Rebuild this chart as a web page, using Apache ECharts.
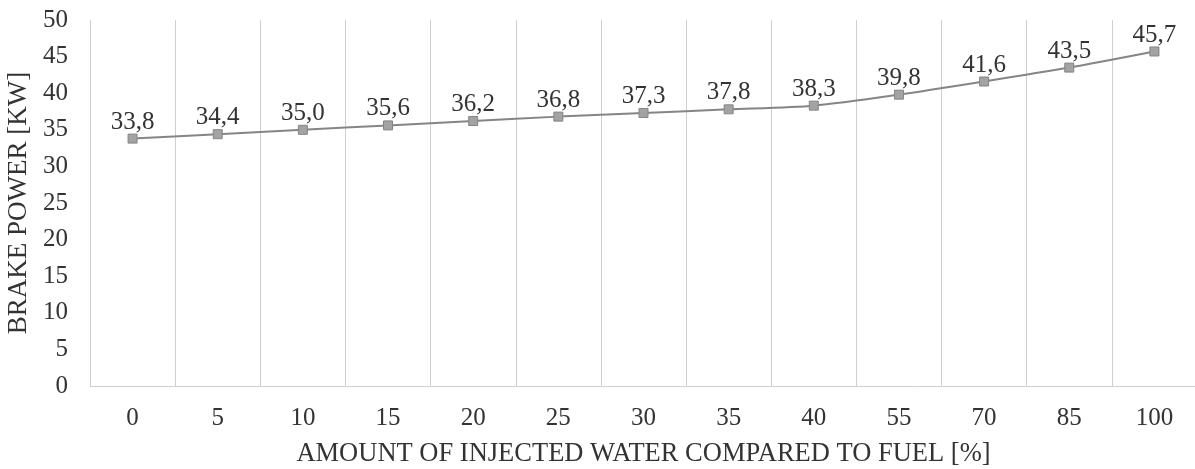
<!DOCTYPE html>
<html><head><meta charset="utf-8">
<script src="https://cdn.jsdelivr.net/npm/echarts@6/dist/echarts.min.js"></script>
<style>html,body{margin:0;padding:0;background:#fff}#c{width:1195px;height:469px}</style>
</head><body><div id="c"></div>
<script>
const categories = ['0','5','10','15','20','25','30','35','40','55','70','85','100'];
const brakePower = [33.8,34.4,35.0,35.6,36.2,36.8,37.3,37.8,38.3,39.8,41.6,43.5,45.7];
const yTicks = {min:0, max:50, interval:5};
const font = 'Liberation Serif, Times New Roman, serif';
const txt = '#333333';
const chart = echarts.init(document.getElementById('c'));
chart.setOption({
  animation:false,
  grid:{left:90, right:-2, top:20, bottom:83, containLabel:false, outerBoundsMode:'none'},
  xAxis:{type:'category', data:categories, boundaryGap:true,
    name:'AMOUNT OF INJECTED WATER COMPARED TO FUEL [%]', nameLocation:'middle', nameGap:55,
    nameTextStyle:{fontFamily:font, fontSize:26.5, color:txt},
    axisLine:{lineStyle:{color:'#d0d0d0', width:1}}, axisTick:{show:false},
    axisLabel:{fontFamily:font, fontSize:25, color:txt, margin:20},
    splitLine:{show:true, lineStyle:{color:'#cfcfcf', width:1}}},
  yAxis:{type:'value', min:yTicks.min, max:yTicks.max, interval:yTicks.interval,
    name:'BRAKE POWER [KW]', nameLocation:'middle', nameGap:52,
    nameTextStyle:{fontFamily:font, fontSize:27, color:txt},
    axisLine:{show:false}, axisTick:{show:false}, splitLine:{show:false},
    axisLabel:{fontFamily:font, fontSize:25, color:txt, margin:22}},
  series:[{type:'line', data:brakePower, smooth:0.25, symbol:'rect', symbolSize:9,
    lineStyle:{color:'#858585', width:2},
    itemStyle:{color:'#a3a3a3', borderColor:'#858585', borderWidth:1},
    label:{show:true, position:'top', distance:-1, fontFamily:font, fontSize:25, color:txt,
      formatter:p=>p.value.toFixed(1).replace('.',',')}}]
});
</script></body></html>
